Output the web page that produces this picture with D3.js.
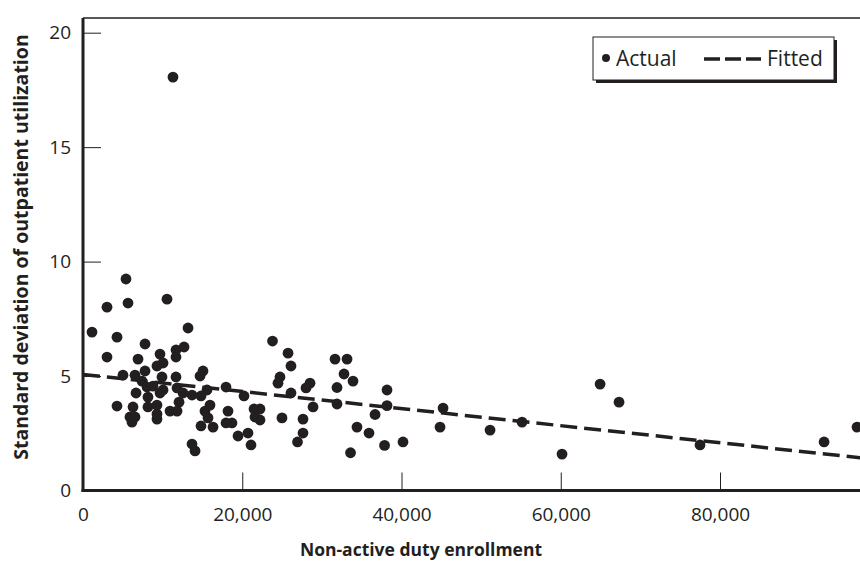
<!DOCTYPE html>
<html>
<head>
<meta charset="utf-8">
<script src="https://cdn.jsdelivr.net/npm/d3@7"></script>
<style>
  html, body { margin: 0; padding: 0; background: #fff; }
  svg { display: block; font-family: "Open Sans", "Noto Sans", sans-serif; }
</style>
</head>
<body>
<svg id="chart" width="860" height="565"></svg>
<script>
// ---- data ----
const enrollment = [
  1130, 3014, 3014, 4270, 5400, 5652, 7790, 6910, 10550, 13190,
  9670, 11680, 12690, 11680, 10050, 9290, 7790, 6530, 5020, 15070,
  14700, 9920, 11680, 7410, 8040, 8790, 11810, 9670, 6660, 8160,
  12560, 13690, 14820, 15570, 17960, 12060, 4270, 6280, 8160, 9290,
  15950, 9290, 10930, 11810, 15320, 18210, 5900, 6530, 6150, 9290,
  15700, 16330, 14820, 17960, 13690, 14070, 10050, 18710, 20220, 21480,
  22230, 21600, 22230, 19470, 20720, 21100, 23800, 25750, 26120, 24740,
  24490, 26120, 28510, 28010, 28890, 24990, 27630, 27630, 26940, 31650,
  33160, 32780, 33910, 31900, 31900, 36680, 38180, 38180, 34410, 35920,
  33600, 37870, 40190, 45220, 44840, 51120, 55140, 60160, 64940, 67320,
  77490, 93070, 97210, 11300
];
const stdDev = [
  6.92, 8.01, 5.83, 6.70, 9.24, 8.19, 6.40, 5.74, 8.36, 7.10,
  5.96, 6.14, 6.27, 5.83, 5.57, 5.44, 5.22, 5.04, 5.04, 5.22,
  5.00, 4.96, 4.96, 4.78, 4.52, 4.56, 4.48, 4.26, 4.26, 4.08,
  4.26, 4.17, 4.13, 4.39, 4.52, 3.86, 3.69, 3.65, 3.65, 3.73,
  3.73, 3.34, 3.47, 3.47, 3.47, 3.47, 3.21, 3.21, 2.99, 3.12,
  3.17, 2.77, 2.82, 2.95, 2.03, 1.73, 4.39, 2.95, 4.13, 3.56,
  3.56, 3.21, 3.08, 2.38, 2.51, 1.99, 6.53, 6.00, 5.44, 4.96,
  4.69, 4.26, 4.69, 4.48, 3.65, 3.17, 3.12, 2.51, 2.12, 5.74,
  5.74, 5.09, 4.78, 4.50, 3.78, 3.32, 4.39, 3.71, 2.77, 2.51,
  1.65, 1.97, 2.12, 3.60, 2.77, 2.64, 2.99, 1.59, 4.65, 3.86,
  1.99, 2.12, 2.77, 18.06
];
const fittedX = [0, 100000];
const fittedY = [5.07, 1.34];
const xTicks = [0, 20000, 40000, 60000, 80000];
const yTicks = [0, 5, 10, 15, 20];
const legendLabels = ["Actual", "Fitted"];
const xTitle = "Non-active duty enrollment";
const yTitle = "Standard deviation of outpatient utilization";

// ---- layout ----
const ink = "#231f20";
const plotLeft = 83, plotBottom = 490.5, plotTop = 18;
const svg = d3.select("#chart");

const x = d3.scaleLinear().domain([0, 80000]).range([plotLeft, 720]);
const y = d3.scaleLinear().domain([0, 20]).range([plotBottom, 32.7]);
const xMax = 100000;
const yMax = y.invert(plotTop);

const points = enrollment.map((e, i) => ({ x: e, y: stdDev[i] }));
const fitted = fittedX.map((v, i) => ({ x: v, y: fittedY[i] }));

svg.append("defs").append("clipPath").attr("id", "plotclip")
  .append("rect")
  .attr("x", plotLeft).attr("y", plotTop)
  .attr("width", x(xMax) - plotLeft).attr("height", plotBottom - plotTop);

const yAxis = d3.axisLeft(y).tickValues(yTicks).tickFormat(d3.format("d"))
  .tickSizeInner(-18).tickSizeOuter(0).tickPadding(12);
const gy = svg.append("g").attr("transform", `translate(${plotLeft},0)`).call(yAxis);
gy.select(".domain").remove();
gy.selectAll(".tick line").attr("stroke", ink).attr("stroke-width", 1);
gy.selectAll(".tick text").attr("fill", ink).style("font-size", "19px")
  .style("font-family", "'Open Sans', sans-serif");

const xAxis = d3.axisBottom(x).tickValues(xTicks).tickFormat(d3.format(","))
  .tickSizeInner(-18).tickSizeOuter(0).tickPadding(17);
const gx = svg.append("g").attr("transform", `translate(0,${plotBottom})`).call(xAxis);
gx.select(".domain").remove();
gx.selectAll(".tick line").attr("stroke", ink).attr("stroke-width", 1);
gx.selectAll(".tick text").attr("fill", ink).style("font-size", "19px")
  .style("font-family", "'Open Sans', sans-serif");

svg.append("line").attr("x1", plotLeft).attr("x2", x(xMax)).attr("y1", y(yMax)).attr("y2", y(yMax))
  .attr("stroke", ink).attr("stroke-width", 1.3);
svg.append("line").attr("x1", plotLeft).attr("x2", plotLeft).attr("y1", y(yMax)).attr("y2", plotBottom + 1.5)
  .attr("stroke", ink).attr("stroke-width", 3);
svg.append("line").attr("x1", plotLeft - 1.5).attr("x2", x(xMax)).attr("y1", plotBottom).attr("y2", plotBottom)
  .attr("stroke", ink).attr("stroke-width", 3);

const plot = svg.append("g").attr("clip-path", "url(#plotclip)");
plot.append("path")
  .datum(fitted)
  .attr("d", d3.line().x(d => x(d.x)).y(d => y(d.y)))
  .attr("fill", "none").attr("stroke", ink).attr("stroke-width", 3.5)
  .attr("stroke-dasharray", "17,7");

svg.append("g").selectAll("circle")
  .data(points).join("circle")
  .attr("cx", d => x(d.x)).attr("cy", d => y(d.y)).attr("r", 5.4)
  .attr("fill", ink);

svg.append("text")
  .attr("x", 421).attr("y", 556)
  .attr("text-anchor", "middle")
  .style("font-size", "17.5px").style("font-weight", "bold").attr("fill", ink)
  .text(xTitle);
svg.append("text")
  .attr("transform", "translate(28,247) rotate(-90)")
  .attr("text-anchor", "middle")
  .style("font-size", "19.5px").style("font-weight", "bold").attr("fill", ink)
  .text(yTitle);

const lg = svg.append("g").attr("transform", "translate(593,37)");
lg.append("rect").attr("x", 3).attr("y", 3).attr("width", 241).attr("height", 43).attr("fill", ink);
lg.append("rect").attr("x", 0).attr("y", 0).attr("width", 241).attr("height", 43)
  .attr("fill", "#fff").attr("stroke", ink).attr("stroke-width", 1);
lg.append("circle").attr("cx", 13).attr("cy", 21).attr("r", 4).attr("fill", ink);
lg.append("text").attr("x", 23).attr("y", 29).style("font-size", "21px").attr("fill", ink).text(legendLabels[0]);
lg.append("line").attr("x1", 111).attr("x2", 168).attr("y1", 22).attr("y2", 22)
  .attr("stroke", ink).attr("stroke-width", 3.5).attr("stroke-dasharray", "16,5");
lg.append("text").attr("x", 174).attr("y", 29).style("font-size", "21px").attr("fill", ink).text(legendLabels[1]);
</script>
</body>
</html>
